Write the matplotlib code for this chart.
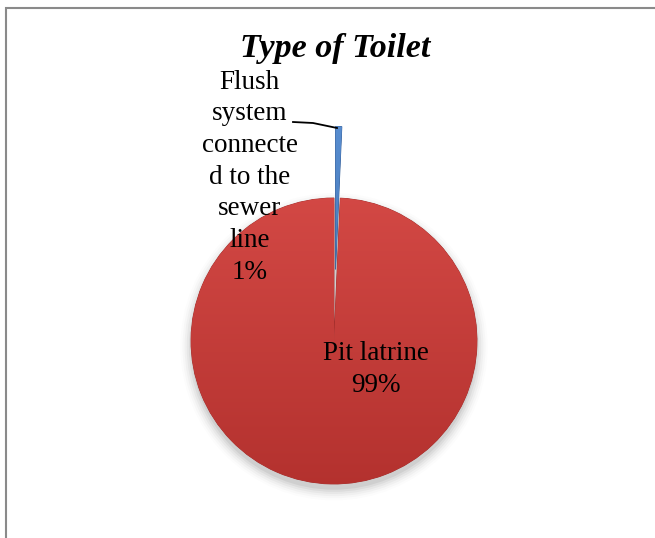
import numpy as np
import matplotlib
matplotlib.use("Agg")
import matplotlib.pyplot as plt
from matplotlib.patches import Rectangle, Circle
from matplotlib.colors import LinearSegmentedColormap

# data
labels = ["Flush system connected to the sewer line", "Pit latrine"]
label_text = ["Flush\nsystem\nconnecte\nd to the\nsewer\nline", "Pit latrine"]
shares = [0.7, 99.3]
title = "Type of Toilet"

W, H, DPI = 655, 538, 100
PX = 143.0          # pie radius in pixels
CX, CY = 334, 341   # pie centre in pixels (from top-left)

plt.rcParams["font.family"] = ["Liberation Serif", "DejaVu Serif"]
fig = plt.figure(figsize=(W / DPI, H / DPI), dpi=DPI)
ax = fig.add_axes([0, 0, 1, 1])

# soft shadow under the pie
for i, a in enumerate(np.linspace(0.05, 0.01, 6)):
    ax.add_patch(Circle((0.0, -0.04), 1.0 + 0.015 * i, color="#000000", alpha=a, lw=0, zorder=0))

wedges, _ = ax.pie(shares, startangle=90, counterclock=False, explode=[0.5, 0],
                   colors=["#3a6fb5", "#cc3f3c"], radius=1.0, center=(0, 0),
                   wedgeprops=dict(lw=0.6, edgecolor="#a02c2a"))
wedges[0].set_edgecolor("#2a5590")

# vertical gradient inside each wedge
grads = [("#5a8fd2", "#2c5f9e"), ("#dc4f4b", "#b3312e")]
for w, (c1, c2) in zip(wedges, grads):
    cm = LinearSegmentedColormap.from_list("g", [c2, c1])
    img = ax.imshow(np.linspace(0, 1, 256).reshape(-1, 1), cmap=cm, origin="lower",
                    extent=(-1.1, 1.1, -1.05, 1.6), aspect="auto", zorder=w.get_zorder() + 0.1)
    img.set_clip_path(w)

# labels
ax.text(0.29, -0.2, "Pit latrine\n99%", ha="center", va="center",
        fontsize=19.5, linespacing=1.35, zorder=5)
ax.text(-0.59, 1.145, label_text[0] + "\n1%", ha="center", va="center",
        fontsize=19.5, linespacing=1.35, zorder=5)

# leader line from label to exploded slice
lx = [(293 - CX) / PX, (313 - CX) / PX, (337 - CX) / PX]
ly = [(CY - 122) / PX, (CY - 123) / PX, (CY - 128) / PX]
ax.plot(lx, ly, color="black", lw=1.3, zorder=6)

ax.text((335 - CX) / PX, (CY - 48) / PX, title, ha="center", va="center",
        fontsize=24.5, fontweight="bold", fontstyle="italic")

ax.set_xlim(-CX / PX, (W - CX) / PX)
ax.set_ylim((CY - H) / PX, CY / PX)
ax.set_aspect("equal")
ax.axis("off")

# chart area border (runs off the right and bottom)
fig.patches.append(Rectangle((6 / W, -0.1), 1.5, 1.1 - 8 / H, transform=fig.transFigure,
                             fill=False, edgecolor="#8a8a8a", lw=1.5))

fig.savefig("out.png", dpi=DPI)
